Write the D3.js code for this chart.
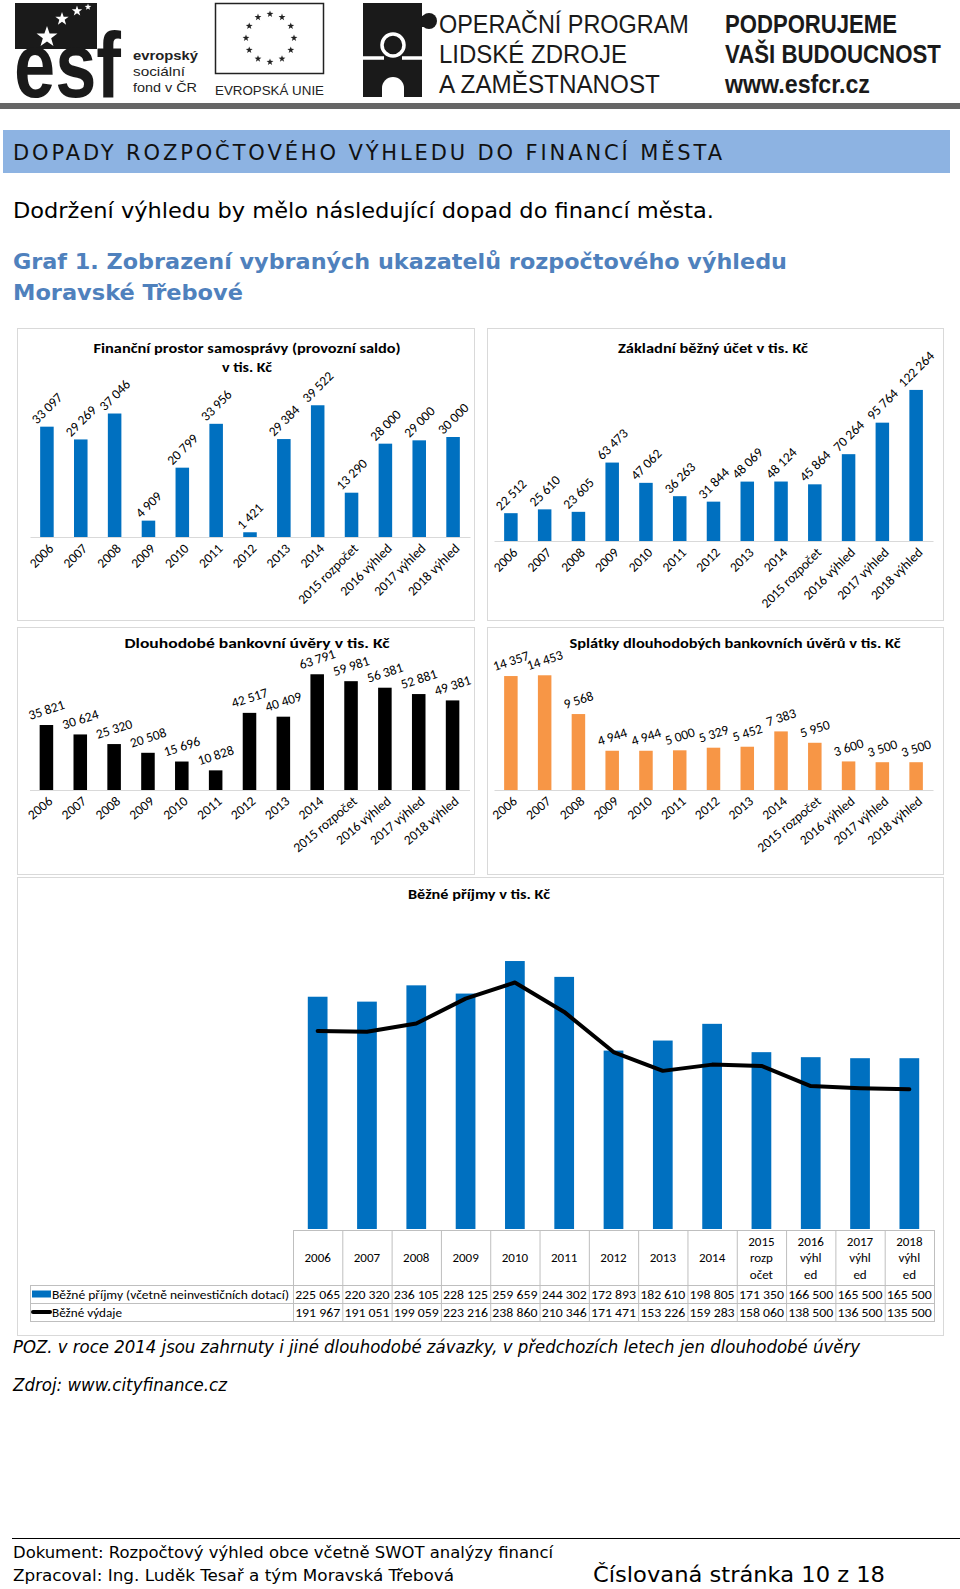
<!DOCTYPE html>
<html><head><meta charset="utf-8">
<script src="https://cdn.jsdelivr.net/npm/d3@7"></script>
<style>
html,body{margin:0;padding:0;background:#fff;}
svg{display:block;}
</style></head>
<body>
<svg id="page" width="960" height="1589"></svg>
<script>
// ---------- DATA ----------
const categories = ["2006","2007","2008","2009","2010","2011","2012","2013","2014","2015 rozpočet","2016 výhled","2017 výhled","2018 výhled"];
const tableHeaders = [["2006"],["2007"],["2008"],["2009"],["2010"],["2011"],["2012"],["2013"],["2014"],["2015","rozp","očet"],["2016","výhl","ed"],["2017","výhl","ed"],["2018","výhl","ed"]];
const saldo   = [33097,29269,37046,4909,20799,33956,1421,29384,39522,13290,28000,29000,30000];
const bezny   = [22512,25610,23605,63473,47062,36263,31844,48069,48124,45864,70264,95764,122264];
const uvery   = [35821,30624,25320,20508,15696,10828,42517,40409,63791,59981,56381,52881,49381];
const splatky = [14357,14453,9568,4944,4944,5000,5329,5452,7383,5950,3600,3500,3500];
const prijmy  = [225065,220320,236105,228125,259659,244302,172893,182610,198805,171350,166500,165500,165500];
const vydaje  = [191967,191051,199059,223216,238860,210346,171471,153226,159283,158060,138500,136500,135500];
const seriesNames = ["Běžné příjmy (včetně neinvestičních dotací)","Běžné výdaje"];

// ---------- SETUP ----------
const svg = d3.select("#page");
const CH = "Carlito, Calibri, Lato, sans-serif";
const PF = "'DejaVu Sans Condensed','DejaVu Sans',Verdana,sans-serif";
const fmt = d3.formatLocale({decimal:",", thousands:" ", grouping:[3], currency:["",""]}).format(",d");

function txt(parent, x, y, s, o={}) {
  const t = parent.append("text").attr("x",x).attr("y",y).text(s)
    .attr("font-family", o.ff||PF).attr("font-size", o.fs||16).attr("fill", o.fill||"#000");
  if(o.fw) t.attr("font-weight", o.fw);
  if(o.fst) t.attr("font-style", o.fst);
  if(o.anchor) t.attr("text-anchor", o.anchor);
  if(o.tl) t.attr("textLength", o.tl).attr("lengthAdjust", o.la||"spacingAndGlyphs");
  return t;
}
// text horizontally scaled so that its rendered width equals w
function fitText(parent, x, y, s, w, o={}) {
  const t = txt(parent, 0, 0, s, o);
  const nat = t.node().getComputedTextLength() || w;
  t.attr("transform", `translate(${x},${y}) scale(${(w/nat).toFixed(4)},1)`);
  return t;
}
function starPath(cx, cy, r){
  const pts=[];
  for(let k=0;k<10;k++){
    const rr = k%2===0 ? r : r*0.4;
    const a = -Math.PI/2 + k*Math.PI/5;
    pts.push([cx+rr*Math.cos(a), cy+rr*Math.sin(a)]);
  }
  return "M"+pts.map(p=>p[0].toFixed(2)+","+p[1].toFixed(2)).join("L")+"Z";
}

// ---------- HEADER ----------
const hd = svg.append("g");
const AF = "'Liberation Sans',Arial,sans-serif";
hd.append("rect").attr("x",15).attr("y",3).attr("width",82).attr("height",46).attr("fill","#1a1a1a");
[[47,37,11],[62,19,7],[77,11,5.5],[88,7,3.5]].forEach(s=>hd.append("path").attr("d",starPath(...s)).attr("fill","#fff"));
fitText(hd,14,97,"esf",107,{ff:AF,fs:92,fw:"bold",fill:"#1a1a1a"});
txt(hd,133,60,"evropský",{ff:AF,fs:13.5,fw:"bold",tl:65,fill:"#222"});
txt(hd,133,76,"sociální",{ff:AF,fs:13.5,tl:52,fill:"#222"});
txt(hd,133,92,"fond v ČR",{ff:AF,fs:13.5,tl:64,fill:"#222"});
hd.append("rect").attr("x",215.5).attr("y",3.5).attr("width",108).attr("height",70).attr("fill","#fff").attr("stroke","#222").attr("stroke-width",1.5);
for(let k=0;k<12;k++){
  const a = -Math.PI/2 + k*Math.PI/6;
  hd.append("path").attr("d",starPath(270+24*Math.cos(a),38+24*Math.sin(a),3.6)).attr("fill","#222");
}
txt(hd,215,95,"EVROPSKÁ UNIE",{ff:AF,fs:13,tl:109,fill:"#222"});
hd.append("rect").attr("x",363).attr("y",3).attr("width",59).attr("height",94).attr("fill","#1a1a1a");
hd.append("rect").attr("x",418).attr("y",16).attr("width",8).attr("height",11).attr("fill","#1a1a1a");
hd.append("circle").attr("cx",429).attr("cy",21).attr("r",8).attr("fill","#1a1a1a");
hd.append("circle").attr("cx",393).attr("cy",45).attr("r",11).attr("fill","none").attr("stroke","#fff").attr("stroke-width",3.5);
hd.append("line").attr("x1",363).attr("x2",384).attr("y1",58).attr("y2",58).attr("stroke","#fff").attr("stroke-width",3.5);
hd.append("line").attr("x1",402).attr("x2",422).attr("y1",58).attr("y2",58).attr("stroke","#fff").attr("stroke-width",3.5);
hd.append("path").attr("d","M382,97 L382,88 A11,11 0 0 1 404,88 L404,97 Z").attr("fill","#fff");
const OF = "'Liberation Sans Narrow','Liberation Sans',Arial,sans-serif";
fitText(hd,439,33,"OPERAČNÍ PROGRAM",250,{ff:OF,fs:25.5,fill:"#1a1a1a"});
fitText(hd,439,63,"LIDSKÉ ZDROJE",188,{ff:OF,fs:25.5,fill:"#1a1a1a"});
fitText(hd,439,93,"A ZAMĚSTNANOST",221,{ff:OF,fs:25.5,fill:"#1a1a1a"});
fitText(hd,725,33,"PODPORUJEME",172,{ff:OF,fs:25.5,fw:"bold",fill:"#1a1a1a"});
fitText(hd,725,63,"VAŠI BUDOUCNOST",216,{ff:OF,fs:25.5,fw:"bold",fill:"#1a1a1a"});
fitText(hd,725,93,"www.esfcr.cz",145,{ff:OF,fs:25.5,fw:"bold",fill:"#1a1a1a"});
hd.append("rect").attr("x",0).attr("y",103).attr("width",960).attr("height",6).attr("fill","#666");

// ---------- PAGE HEADINGS ----------
svg.append("rect").attr("x",3).attr("y",130).attr("width",947).attr("height",43).attr("fill","#8DB3E2");
txt(svg,13,160,"DOPADY ROZPOČTOVÉHO VÝHLEDU DO FINANCÍ MĚSTA",{ff:"'DejaVu Sans',Verdana,sans-serif",fs:21,tl:709,la:"spacing",fill:"#111"});
txt(svg,13,218,"Dodržení výhledu by mělo následující dopad do financí města.",{fs:21,tl:701});
txt(svg,13,269,"Graf 1. Zobrazení vybraných ukazatelů rozpočtového výhledu",{fs:22,fw:"bold",tl:774,fill:"#4F81BD"});
txt(svg,13,300,"Moravské Třebové",{fs:22,fw:"bold",tl:230,fill:"#4F81BD"});

// ---------- BAR CHARTS ----------
function barChart(o){
  const g = svg.append("g");
  g.append("rect").attr("x",o.box[0]+0.5).attr("y",o.box[1]+0.5)
    .attr("width",o.box[2]-o.box[0]).attr("height",o.box[3]-o.box[1])
    .attr("fill","#fff").attr("stroke","#d9d9d9");
  const x = d3.scaleBand().domain(categories).range(o.xr).paddingInner(0.6).paddingOuter(0.3);
  const y = d3.scaleLinear().domain([0,o.yMax]).range([o.yBase,o.yTop]);
  g.selectAll("rect.bar").data(o.values).join("rect").attr("class","bar")
    .attr("x",(d,i)=>x(categories[i])).attr("y",d=>y(d))
    .attr("width",x.bandwidth()).attr("height",d=>y(0)-y(d)).attr("fill",o.color);
  const ax = g.append("g").attr("transform",`translate(0,${o.yBase})`)
    .call(d3.axisBottom(x).tickSize(0).tickSizeOuter(0));
  ax.select(".domain").attr("stroke","#d9d9d9");
  ax.selectAll(".tick text").attr("font-family",CH).attr("font-size",13.5).attr("fill","#000")
    .attr("x",0).attr("y",0).attr("dy","0.35em").attr("text-anchor","end")
    .attr("transform",`translate(${o.xlOff[0]},${o.xlOff[1]}) rotate(${o.xlAngle})`);
  g.selectAll("text.dl").data(o.values).join("text").attr("class","dl")
    .attr("font-family",CH).attr("font-size",13.5).attr("text-anchor","middle").attr("dy","0.35em")
    .attr("fill","#000").text(d=>fmt(d))
    .each(function(d,i){
      const L = this.getComputedTextLength(), h = 9.5;
      const a = Math.abs(o.dlAngle)*Math.PI/180;
      const off = o.dlGap + (L*Math.sin(a) + h*Math.cos(a))/2;
      const cx = x(categories[i]) + x.bandwidth()/2;
      d3.select(this).attr("transform",`translate(${cx},${y(d)-off}) rotate(${o.dlAngle})`);
    });
  o.title.forEach((t,k)=>{
    txt(g,o.tx,o.ty[k],t.s,{ff:CH,fs:14.5,fw:"bold",anchor:"middle",tl:t.w});
  });
}

barChart({values:saldo, color:"#0070C0", box:[17,328,474,620], xr:[30,470], yBase:537, yTop:387, yMax:45000,
  dlAngle:-45, dlGap:2, xlAngle:-45, xlOff:[4,9],
  tx:247, ty:[353,372], title:[{s:"Finanční prostor samosprávy (provozní saldo)",w:307},{s:"v tis. Kč",w:50}]});
barChart({values:bezny, color:"#0070C0", box:[487,328,943,620], xr:[494,933], yBase:541, yTop:368, yMax:140000,
  dlAngle:-45, dlGap:2, xlAngle:-45, xlOff:[4,9],
  tx:713, ty:[353], title:[{s:"Základní běžný účet v tis. Kč",w:190}]});
barChart({values:uvery, color:"#000000", box:[17,627,474,874], xr:[29.5,469.5], yBase:790, yTop:663, yMax:70000,
  dlAngle:-18, dlGap:5, xlAngle:-40, xlOff:[4,9],
  tx:257, ty:[648], title:[{s:"Dlouhodobé bankovní úvěry v tis. Kč",w:265}]});
barChart({values:splatky, color:"#F79646", box:[487,627,943,874], xr:[494,933], yBase:790, yTop:663, yMax:16000,
  dlAngle:-18, dlGap:5, xlAngle:-40, xlOff:[4,9],
  tx:735, ty:[648], title:[{s:"Splátky dlouhodobých bankovních úvěrů v tis. Kč",w:331}]});

// ---------- COMBO CHART WITH DATA TABLE ----------
(function(){
  const g = svg.append("g");
  g.append("rect").attr("x",17.5).attr("y",877.5).attr("width",926).attr("height",458)
    .attr("fill","#fff").attr("stroke","#d9d9d9");
  txt(g,479,899,"Běžné příjmy v tis. Kč",{ff:CH,fs:14,fw:"bold",anchor:"middle",tl:142});
  const x = d3.scaleBand().domain(categories).range([293,934]).paddingInner(0.6).paddingOuter(0.3);
  const y = d3.scaleLinear().domain([0,300000]).range([1229,919.4]);
  const cx = i => x(categories[i]) + x.bandwidth()/2;
  g.selectAll("rect.bar").data(prijmy).join("rect").attr("class","bar")
    .attr("x",(d,i)=>x(categories[i])).attr("y",d=>y(d))
    .attr("width",x.bandwidth()).attr("height",d=>y(0)-y(d)).attr("fill","#0070C0");
  g.append("path").datum(vydaje)
    .attr("d",d3.line().x((d,i)=>cx(i)).y(d=>y(d)))
    .attr("fill","none").attr("stroke","#000").attr("stroke-width",4)
    .attr("stroke-linejoin","round").attr("stroke-linecap","round");
  const step = x.step(), x0 = x.range()[0], x1 = x0 + step*categories.length;
  const yT = 1230, yH = 1285, yR1 = 1303, yR2 = 1321, xL = 30;
  const lc = "#bfbfbf";
  const line = (a,b,c,d)=>g.append("line").attr("x1",a).attr("y1",b).attr("x2",c).attr("y2",d).attr("stroke",lc).attr("stroke-width",1);
  line(x0,yT+0.5,x1,yT+0.5);
  [yH,yR1,yR2].forEach(v=>line(xL,v+0.5,x1,v+0.5));
  line(xL+0.5,yH,xL+0.5,yR2+1);
  for(let k=0;k<=categories.length;k++) line(x0+k*step+0.5,yT,x0+k*step+0.5,yR2+1);
  tableHeaders.forEach((lines,i)=>{
    const n = lines.length, lh = 16.5;
    const mid = (yT+yH)/2;
    lines.forEach((s,j)=>{
      txt(g,cx(i),mid + (j-(n-1)/2)*lh + 4.5,s,{ff:CH,fs:13,anchor:"middle"});
    });
  });
  prijmy.forEach((v,i)=>txt(g,cx(i),yR1-4.5,fmt(v),{ff:CH,fs:13,anchor:"middle",tl:45}));
  vydaje.forEach((v,i)=>txt(g,cx(i),yR2-4.5,fmt(v),{ff:CH,fs:13,anchor:"middle",tl:45}));
  g.append("rect").attr("x",32).attr("y",1290.5).attr("width",19).attr("height",7).attr("fill","#0070C0");
  g.append("line").attr("x1",33).attr("x2",50).attr("y1",1312).attr("y2",1312).attr("stroke","#000").attr("stroke-width",4).attr("stroke-linecap","round");
  txt(g,52,yR1-4.5,seriesNames[0],{ff:CH,fs:13,tl:237});
  txt(g,52,yR2-4.5,seriesNames[1],{ff:CH,fs:13,tl:70});
})();

// ---------- NOTES & FOOTER ----------
txt(svg,13,1353,"POZ. v roce 2014 jsou zahrnuty i jiné dlouhodobé závazky, v předchozích letech jen dlouhodobé úvěry",{fs:17,fst:"italic",tl:847});
txt(svg,13,1391,"Zdroj: www.cityfinance.cz",{fs:17,fst:"italic",tl:214});
svg.append("line").attr("x1",12).attr("x2",960).attr("y1",1538.5).attr("y2",1538.5).attr("stroke","#000").attr("stroke-width",1);
txt(svg,13,1558,"Dokument: Rozpočtový výhled obce včetně SWOT analýzy financí",{fs:16,tl:540});
txt(svg,13,1581,"Zpracoval: Ing. Luděk Tesař a tým Moravská Třebová",{fs:16,tl:441});
txt(svg,593,1582,"Číslovaná stránka 10 z 18",{fs:22,tl:292});
</script>
</body></html>
